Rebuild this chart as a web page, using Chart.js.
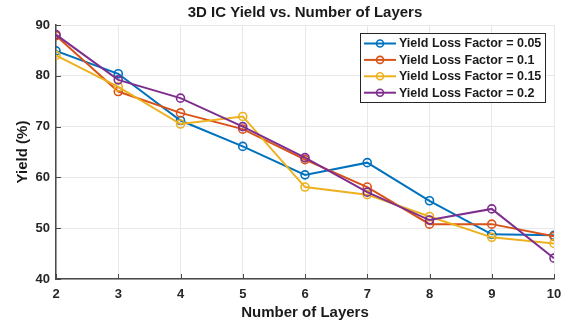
<!DOCTYPE html>
<html>
<head>
<meta charset="utf-8">
<script src="https://cdn.jsdelivr.net/npm/chart.js@4/dist/chart.umd.min.js"></script>
<style>
  html, body { margin: 0; padding: 0; background: #fff; }
  #wrap { width: 570px; height: 324px; position: relative; }
</style>
</head>
<body>
<div id="wrap"><canvas id="yieldChart" width="570" height="324"></canvas></div>
<script>
// 3D IC yield vs. layer count, MATLAB-style line plot.
const LAYERS = [2, 3, 4, 5, 6, 7, 8, 9, 10];
const SERIES_LABELS = [
  'Yield Loss Factor = 0.05',
  'Yield Loss Factor = 0.1',
  'Yield Loss Factor = 0.15',
  'Yield Loss Factor = 0.2'
];
const YIELD_005 = [84.9, 80.4, 71.2, 66.1, 60.5, 62.9, 55.4, 48.8, 48.6];
const YIELD_010 = [87.9, 76.9, 72.7, 69.5, 63.5, 58.1, 50.8, 50.8, 48.4];
const YIELD_015 = [84.0, 77.8, 70.5, 72.0, 58.1, 56.6, 52.3, 48.2, 47.0];
const YIELD_020 = [88.1, 79.2, 75.6, 70.0, 63.9, 57.1, 51.6, 53.8, 44.1];
const X_TICKS = [2, 3, 4, 5, 6, 7, 8, 9, 10];
const Y_TICKS = [40, 50, 60, 70, 80, 90];

const COLORS = ['#0072BD', '#D95319', '#EDB120', '#7E2F8E'];
const FONT = "'Liberation Sans', Arial, Helvetica, sans-serif";
const AXIS_DARK = '#4a4a4a';

(function () {
  'use strict';

  const allSeries = [YIELD_005, YIELD_010, YIELD_015, YIELD_020];

  const datasets = allSeries.map(function (vals, i) {
    return {
      label: SERIES_LABELS[i],
      data: LAYERS.map(function (x, j) { return { x: x, y: vals[j] }; }),
      borderColor: COLORS[i],
      backgroundColor: 'transparent',
      pointBackgroundColor: 'transparent',
      pointBorderColor: COLORS[i],
      pointRadius: 4,
      pointBorderWidth: 1.6,
      borderWidth: 2,
      tension: 0,
      order: allSeries.length - 1 - i
    };
  });

  // MATLAB look: centred title over axes, inward ticks, boxed legend with line+marker samples
  const matlabDecor = {
    id: 'matlabDecor',
    afterDraw: function (chart) {
      const ctx = chart.ctx;
      const area = chart.chartArea;
      const xs = chart.scales.x;
      const ys = chart.scales.y;
      const cx = (area.left + area.right) / 2;

      ctx.save();
      // inward tick marks
      ctx.strokeStyle = AXIS_DARK;
      ctx.lineWidth = 1;
      X_TICKS.forEach(function (t) {
        const px = Math.round(xs.getPixelForValue(t)) + 0.5;
        ctx.beginPath();
        ctx.moveTo(px, area.bottom);
        ctx.lineTo(px, area.bottom - 5);
        ctx.stroke();
      });
      Y_TICKS.forEach(function (t) {
        const py = Math.round(ys.getPixelForValue(t)) + 0.5;
        ctx.beginPath();
        ctx.moveTo(area.left, py);
        ctx.lineTo(area.left + 5, py);
        ctx.stroke();
      });

      ctx.fillStyle = '#1a1a1a';
      ctx.textAlign = 'center';
      ctx.textBaseline = 'middle';
      ctx.font = 'bold 15px ' + FONT;
      ctx.fillText('3D IC Yield vs. Number of Layers', cx, 13);
      ctx.fillText('Number of Layers', cx, 313);

      ctx.save();
      ctx.translate(23, (area.top + area.bottom) / 2);
      ctx.rotate(-Math.PI / 2);
      ctx.fillText('Yield (%)', 0, 0);
      ctx.restore();

      // legend
      const lx = 360.5, ly = 33.5, lw = 185, lh = 69;
      ctx.fillStyle = '#fff';
      ctx.fillRect(lx, ly, lw, lh);
      ctx.strokeStyle = '#262626';
      ctx.lineWidth = 1;
      ctx.strokeRect(lx, ly, lw, lh);

      ctx.font = 'bold 12.5px ' + FONT;
      ctx.textAlign = 'left';
      SERIES_LABELS.forEach(function (label, i) {
        const ry = 43.5 + i * 16.4;
        ctx.strokeStyle = COLORS[i];
        ctx.lineWidth = 2;
        ctx.beginPath();
        ctx.moveTo(364, ry);
        ctx.lineTo(396, ry);
        ctx.stroke();
        ctx.lineWidth = 1.6;
        ctx.beginPath();
        ctx.arc(380, ry, 3.5, 0, Math.PI * 2);
        ctx.stroke();
        ctx.fillStyle = '#1a1a1a';
        ctx.fillText(label, 399, ry + 0.5);
      });
      ctx.restore();
    }
  };

  new Chart(document.getElementById('yieldChart'), {
    type: 'line',
    data: { datasets: datasets },
    plugins: [matlabDecor],
    options: {
      responsive: false,
      animation: false,
      devicePixelRatio: 1,
      layout: { padding: { top: 25, right: 16, left: 0, bottom: 0 } },
      plugins: {
        legend: { display: false },
        title: { display: false },
        tooltip: { enabled: false }
      },
      scales: {
        x: {
          type: 'linear',
          min: 2,
          max: 10,
          afterFit: function (s) { s.height = 45; },
          afterBuildTicks: function (s) { s.ticks = X_TICKS.map(function (v) { return { value: v }; }); },
          grid: { color: '#e8e8e8', drawTicks: false, lineWidth: 1 },
          border: { display: true, color: AXIS_DARK, width: 1.5 },
          ticks: {
            padding: 8,
            color: '#262626',
            font: { family: FONT, size: 13, weight: 'bold' }
          }
        },
        y: {
          min: 40,
          max: 90,
          afterFit: function (s) { s.width = 56; },
          afterBuildTicks: function (s) { s.ticks = Y_TICKS.map(function (v) { return { value: v }; }); },
          grid: { color: '#e8e8e8', drawTicks: false, lineWidth: 1 },
          border: { display: true, color: AXIS_DARK, width: 1.5 },
          ticks: {
            padding: 6,
            color: '#262626',
            font: { family: FONT, size: 13, weight: 'bold' }
          }
        }
      }
    }
  });
})();
</script>
</body>
</html>
